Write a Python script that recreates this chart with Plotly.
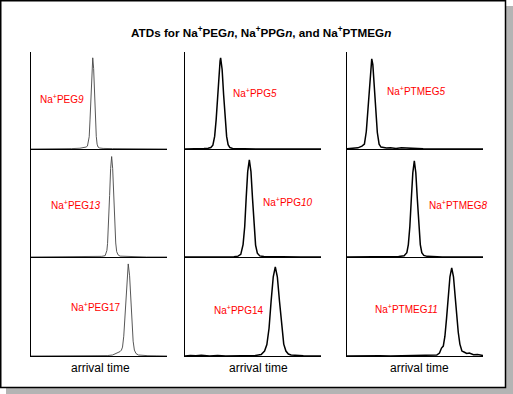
import plotly.graph_objects as go

# ---------------- data (arrival time in arbitrary units 0-100, normalized intensity) -------------
peg9_x = [0, 8, 16, 24, 30, 36, 39, 40.5, 41.5, 42.8, 43.4, 44.1, 44.75, 45.4, 46.05, 46.7, 47.4, 48.0, 48.6, 49.3, 50.5, 53, 60, 70, 80, 90, 100]
peg9_y = [0, 0, 0.002, 0, 0.004, 0.008, 0.012, 0.02, 0.03, 0.127, 0.30, 0.57, 0.83, 0.94, 0.83, 0.57, 0.29, 0.13, 0.05, 0.02, 0.01, 0.006, 0.004, 0.002, 0, 0, 0]

peg13_x = [0, 10, 20, 30, 40, 48, 52, 54.5, 55.8, 56.3, 57.0, 57.8, 58.55, 59.3, 60.05, 60.8, 61.6, 62.3, 63.0, 64, 65.5, 68, 75, 85, 100]
peg13_y = [0, 0, 0, 0.002, 0, 0.003, 0.006, 0.012, 0.06, 0.126, 0.29, 0.57, 0.82, 0.93, 0.82, 0.56, 0.29, 0.13, 0.05, 0.02, 0.008, 0.006, 0.004, 0, 0]

peg17_x = [0, 10, 20, 30, 40, 50, 56, 60, 63, 65.5, 66.5, 67.3, 68.2, 69.1, 70.5, 71.5, 72.5, 73.4, 74.2, 75.1, 76.0, 77.2, 79, 82, 86, 92, 100]
peg17_y = [0, 0, 0.002, 0, 0, 0.002, 0.004, 0.01, 0.025, 0.045, 0.06, 0.09, 0.2, 0.42, 0.81, 0.93, 0.81, 0.56, 0.34, 0.15, 0.06, 0.025, 0.01, 0.006, 0.003, 0.002, 0]

ppg5_x = [0, 5, 10, 14, 17, 19, 20.5, 21.8, 22.9, 24.0, 25.1, 25.8, 26.2, 26.7, 27.3, 28.4, 29.5, 30.6, 31.7, 33, 35, 38, 45, 55, 65, 75, 85, 100]
ppg5_y = [0, 0, 0.002, 0.004, 0.008, 0.015, 0.04, 0.13, 0.3, 0.57, 0.83, 0.91, 0.94, 0.9, 0.82, 0.56, 0.3, 0.13, 0.045, 0.015, 0.006, 0.004, 0.002, 0, 0, 0, 0, 0]

ppg10_x = [0, 10, 20, 30, 36, 39, 41, 42.7, 43.9, 45.0, 46.1, 47.3, 48.5, 49.6, 50.7, 51.9, 53.2, 55, 58, 65, 75, 85, 100]
ppg10_y = [0, 0, 0, 0.002, 0.003, 0.008, 0.025, 0.115, 0.28, 0.55, 0.79, 0.9, 0.79, 0.55, 0.28, 0.11, 0.035, 0.01, 0.004, 0.002, 0, 0, 0]

ppg14_x = [0, 4, 8, 12, 18, 24, 30, 38, 46, 52, 56, 58.5, 60.2, 61.8, 63.3, 64.9, 66.4, 67.9, 69.5, 71.0, 72.6, 74.2, 76, 78, 82, 87, 92, 100]
ppg14_y = [0, 0.006, 0.002, 0.008, 0, 0.004, 0, 0.003, 0.002, 0.006, 0.015, 0.05, 0.115, 0.28, 0.55, 0.8, 0.9, 0.8, 0.55, 0.3, 0.12, 0.05, 0.02, 0.01, 0.004, 0.002, 0, 0]

ptmeg5_x = [0, 4, 8, 11, 12.8, 14.2, 15.5, 16.6, 17.4, 18.2, 19.0, 19.8, 20.9, 22.3, 23.6, 25, 27, 29, 32, 36, 40, 48, 56, 65, 75, 85, 100]
ptmeg5_y = [0.003, 0.006, 0.012, 0.03, 0.05, 0.18, 0.44, 0.71, 0.87, 0.93, 0.87, 0.71, 0.44, 0.17, 0.05, 0.02, 0.015, 0.01, 0.012, 0.006, 0.012, 0.004, 0.002, 0, 0, 0, 0]

ptmeg8_x = [0, 10, 20, 30, 38, 42, 44, 45.1, 46.2, 47.3, 48.4, 49.5, 50.6, 51.7, 52.8, 53.9, 55.0, 56.5, 59, 63, 70, 80, 90, 100]
ptmeg8_y = [0, 0, 0, 0.002, 0.004, 0.012, 0.04, 0.115, 0.28, 0.54, 0.78, 0.89, 0.78, 0.54, 0.28, 0.115, 0.04, 0.015, 0.006, 0.003, 0.001, 0, 0, 0]

ptmeg11_x = [0, 8, 16, 24, 32, 40, 46, 50, 55, 60, 63, 66, 68, 69.5, 70.8, 72, 73.2, 74.4, 75.7, 77, 78.3, 79.6, 80.8, 81.8, 83, 84.5, 86, 88, 90, 93, 96, 100]
ptmeg11_y = [0, 0.002, 0, 0.003, 0, 0.001, 0.004, 0.002, 0.006, 0.003, 0.008, 0.01, 0.03, 0.08, 0.1, 0.2, 0.38, 0.59, 0.8, 0.89, 0.8, 0.59, 0.38, 0.24, 0.12, 0.05, 0.04, 0.025, 0.03, 0.012, 0.015, 0.005]

# grid order: rows top->bottom, columns PEG, PPG, PTMEG
panel_labels = [
    ["Na<sup>+</sup>PEG<i>9</i>", "Na<sup>+</sup>PPG<i>5</i>", "Na<sup>+</sup>PTMEG<i>5</i>"],
    ["Na<sup>+</sup>PEG<i>13</i>", "Na<sup>+</sup>PPG<i>10</i>", "Na<sup>+</sup>PTMEG<i>8</i>"],
    ["Na<sup>+</sup>PEG17", "Na<sup>+</sup>PPG14", "Na<sup>+</sup>PTMEG<i>11</i>"],
]
series = [
    [(peg9_x, peg9_y), (ppg5_x, ppg5_y), (ptmeg5_x, ptmeg5_y)],
    [(peg13_x, peg13_y), (ppg10_x, ppg10_y), (ptmeg8_x, ptmeg8_y)],
    [(peg17_x, peg17_y), (ppg14_x, ppg14_y), (ptmeg11_x, ptmeg11_y)],
]
title_text = "<b>ATDs for Na<sup>+</sup>PEG<i>n</i>, Na<sup>+</sup>PPG<i>n</i>, and Na<sup>+</sup>PTMEG<i>n</i></b>"
xlabel = "arrival time"

# ---------------- layout helpers (pixel -> paper) -------------
W, H = 513, 394
def px(x):
    return x / W
def py(y):
    return 1 - y / H

col_px = [(31, 167), (185, 321), (347, 483)]
row_px = [(52, 149), (149, 257), (257, 356)]
label_pos = [
    [(62, 99), (255, 93), (416, 91)],
    [(76, 205), (288, 202), (458, 205)],
    [(96, 307), (239, 310), (406, 309)],
]
xlabel_pos = [(100, 368), (258, 368), (419, 368)]

FONT = "Arial, 'Liberation Sans', sans-serif"

fig = go.Figure()
layout = dict(
    width=W, height=H, autosize=False,
    margin=dict(l=0, r=0, t=0, b=0),
    paper_bgcolor="white", plot_bgcolor="white",
    showlegend=False,
    font=dict(family=FONT, color="black"),
)
annotations = []
for r in range(3):
    for c in range(3):
        k = r * 3 + c + 1
        xs, ys = series[r][c]
        line = dict(color="#444444", width=0.9) if c == 0 else dict(color="black", width=1.5)
        fig.add_trace(go.Scatter(x=xs, y=ys, mode="lines", line=line,
                                 xaxis=f"x{k}", yaxis=f"y{k}", hoverinfo="skip"))
        layout[f"xaxis{k}"] = dict(
            domain=[px(col_px[c][0]), px(col_px[c][1])], range=[0, 100],
            anchor=f"y{k}", showline=True, linecolor="black", linewidth=1.3,
            showticklabels=False, ticks="", showgrid=False, zeroline=False)
        layout[f"yaxis{k}"] = dict(
            domain=[py(row_px[r][1]), py(row_px[r][0])], range=[0, 1],
            anchor=f"x{k}", showline=True, linecolor="black", linewidth=1.3,
            showticklabels=False, ticks="", showgrid=False, zeroline=False)
        lx, ly = label_pos[r][c]
        annotations.append(dict(text=panel_labels[r][c], x=px(lx), y=py(ly),
                                xref="paper", yref="paper", showarrow=False,
                                xanchor="center", yanchor="middle",
                                font=dict(family=FONT, size=10, color="#ff0000")))

for c in range(3):
    lx, ly = xlabel_pos[c]
    annotations.append(dict(text=xlabel, x=px(lx), y=py(ly), xref="paper", yref="paper",
                            showarrow=False, xanchor="center", yanchor="middle",
                            font=dict(family=FONT, size=12, color="black")))

annotations.append(dict(text=title_text, x=px(261), y=py(32), xref="paper", yref="paper",
                        showarrow=False, xanchor="center", yanchor="middle",
                        font=dict(family=FONT, size=11.7, color="black")))

shapes = [
    # drop shadow
    dict(type="rect", xref="paper", yref="paper", x0=px(6), x1=px(513), y0=py(394), y1=py(388),
         fillcolor="#b4b4b4", line=dict(width=0), layer="below"),
    dict(type="rect", xref="paper", yref="paper", x0=px(506), x1=px(513), y0=py(394), y1=py(6),
         fillcolor="#b4b4b4", line=dict(width=0), layer="below"),
    # frame
    dict(type="rect", xref="paper", yref="paper", x0=px(0.75), x1=px(505.5), y0=py(387.5), y1=py(0.75),
         line=dict(color="black", width=1.5), fillcolor="rgba(0,0,0,0)"),
]
layout["annotations"] = annotations
layout["shapes"] = shapes
fig.update_layout(**layout)

fig.write_html("out.html", config={"displayModeBar": False},
               post_script="document.body.style.margin='0';")
